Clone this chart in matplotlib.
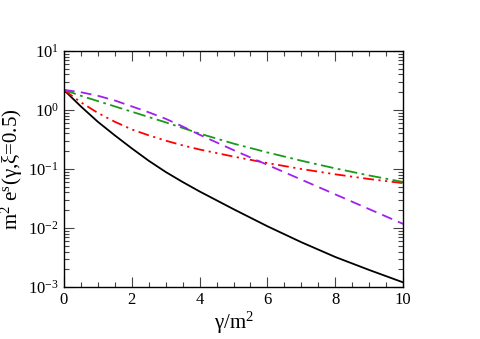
import numpy as np
import matplotlib
matplotlib.use("Agg")
import matplotlib.pyplot as plt
from matplotlib.ticker import MultipleLocator, LogLocator, NullFormatter

plt.rcParams["font.family"] = ["Liberation Serif", "DejaVu Serif"]
plt.rcParams["mathtext.fontset"] = "custom"
plt.rcParams["mathtext.rm"] = "Liberation Serif"
plt.rcParams["mathtext.it"] = "Liberation Serif"

# gamma/m^2 grid
gam = [0, 0.5, 1, 1.5, 2, 2.5, 3, 3.5, 4, 5, 6, 7, 8, 9, 10]

# log10 of the curves
log_black = [0.34, 0.06, -0.20, -0.43, -0.65, -0.86, -1.05, -1.22, -1.38, -1.68, -1.97, -2.24, -2.49, -2.71, -2.92]
log_red = [0.34, 0.13, -0.05, -0.20, -0.33, -0.43, -0.52, -0.60, -0.67, -0.79, -0.90, -1.00, -1.09, -1.17, -1.24]
log_green = [0.34, 0.24, 0.15, 0.06, -0.03, -0.12, -0.21, -0.305, -0.40, -0.57, -0.72, -0.86, -0.99, -1.11, -1.22]
log_purple = [0.34, 0.30, 0.24, 0.16, 0.06, -0.04, -0.15, -0.28, -0.42, -0.68, -0.93, -1.18, -1.43, -1.68, -1.93]

fig = plt.figure(figsize=(4.8, 3.39), dpi=100)
ax = fig.add_axes([0.133, 0.153, 0.707, 0.697])

lw = 1.3
ax.plot(gam, 10 ** np.array(log_black), color="black", lw=lw)
ax.plot(gam, 10 ** np.array(log_red), color="#ff0000", lw=lw, dashes=[6, 2.5, 1.2, 2.5, 1.2, 2.5])
ax.plot(gam, 10 ** np.array(log_green), color="#1a9a1a", lw=lw, dashes=[7, 2.5, 1.5, 2.5])
ax.plot(gam, 10 ** np.array(log_purple), color="#a020f0", lw=lw, dashes=[6, 3.5])

ax.set_yscale("log")
ax.set_xlim(0, 10)
ax.set_ylim(1e-3, 1e1)
ax.xaxis.set_major_locator(MultipleLocator(2))
ax.xaxis.set_minor_locator(MultipleLocator(0.5))
ax.yaxis.set_major_locator(LogLocator(base=10, numticks=10))
ax.yaxis.set_minor_locator(LogLocator(base=10, subs=np.arange(2, 10), numticks=10))
ax.yaxis.set_minor_formatter(NullFormatter())

ax.tick_params(which="both", direction="in", top=True, right=True, labelsize=12, width=0.8, color="#444444")
ax.tick_params(which="major", length=7)
ax.tick_params(which="minor", length=3.5)
for s in ax.spines.values():
    s.set_linewidth(1.0)

ax.set_xlabel("γ/m$^{2}$", fontsize=15, labelpad=1)
ax.set_ylabel("m$^{2}$ e$^{s}$(γ,ξ=0.5)", fontsize=15, labelpad=2)

fig.savefig("out.png", dpi=100)
